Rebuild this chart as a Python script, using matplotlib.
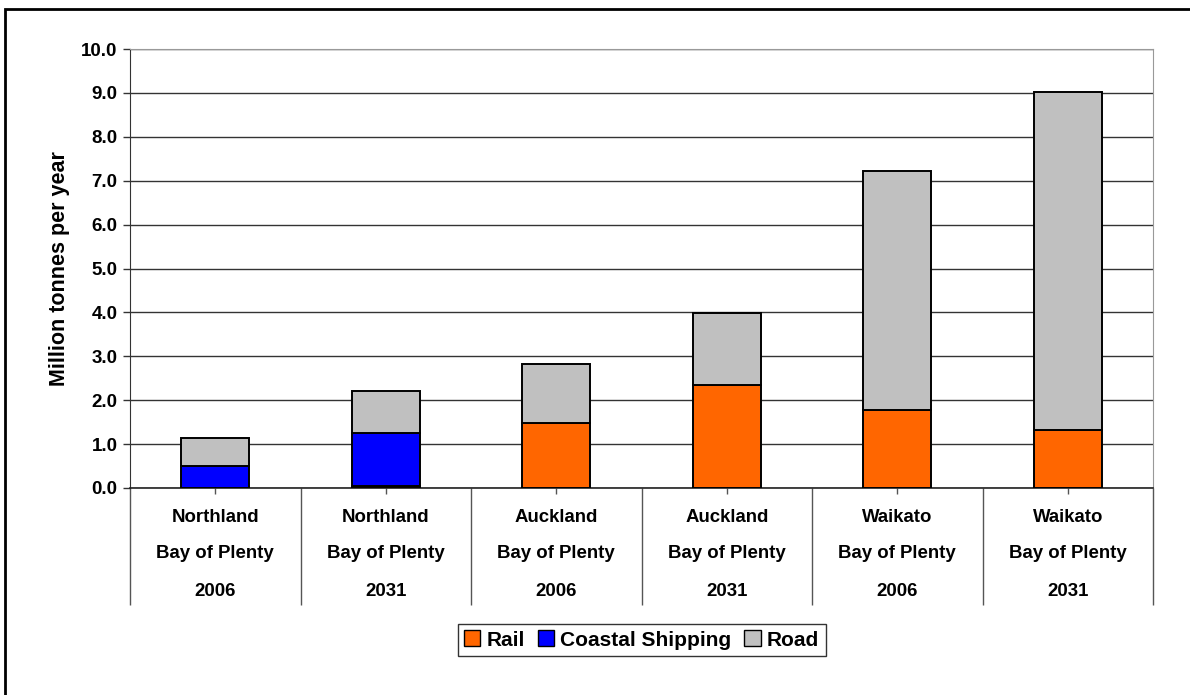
import matplotlib
matplotlib.use("Agg")
import matplotlib.pyplot as plt
from matplotlib.patches import Rectangle, Patch
from matplotlib.ticker import FormatStrFormatter, FixedLocator
from matplotlib.transforms import blended_transform_factory

plt.rcParams['font.family'] = ['Liberation Sans', 'DejaVu Sans']

origins = ["Northland", "Northland", "Auckland", "Auckland", "Waikato", "Waikato"]
destinations = ["Bay of Plenty"] * 6
years = ["2006", "2031", "2006", "2031", "2006", "2031"]

rail = [0.0, 0.05, 1.48, 2.35, 1.77, 1.31]
coastal = [0.50, 1.20, 0.0, 0.0, 0.0, 0.0]
road = [0.63, 0.97, 1.35, 1.63, 5.45, 7.71]

series_names = ["Rail", "Coastal Shipping", "Road"]
colors = ["#FF6600", "#0000FF", "#C0C0C0"]

W, H = 1190, 695
fig = plt.figure(figsize=(W / 100, H / 100), dpi=100)
fig.patch.set_facecolor("white")

# outer chart border (only left and top visible)
fig.add_artist(Rectangle((5 / W, -0.2), 1.2, (1 - 9 / H) + 0.2,
                         transform=fig.transFigure, fill=False,
                         edgecolor="black", linewidth=2.0, clip_on=False))

left, right, top, bottom = 130, 1153, 49, 488
ax = fig.add_axes([left / W, 1 - bottom / H, (right - left) / W, (bottom - top) / H])

x = list(range(len(years)))
bw = 0.4
lw = 1.4
ax.bar(x, rail, bw, color=colors[0], edgecolor="black", linewidth=lw, zorder=3)
ax.bar(x, coastal, bw, bottom=rail, color=colors[1], edgecolor="black", linewidth=lw, zorder=3)
bot2 = [r + c for r, c in zip(rail, coastal)]
ax.bar(x, road, bw, bottom=bot2, color=colors[2], edgecolor="black", linewidth=lw, zorder=3)

ax.set_xlim(-0.5, len(years) - 0.5)
ax.set_ylim(0, 10)
ax.set_yticks([i for i in range(11)])
ax.yaxis.set_major_formatter(FormatStrFormatter("%.1f"))
ax.yaxis.grid(True, color="#333333", linewidth=1.0, zorder=0)
ax.set_axisbelow(True)

ax.tick_params(axis="y", direction="out", length=5, width=1, color="#333333",
               labelsize=13.5, pad=4)
for t in ax.get_yticklabels():
    t.set_fontweight("bold")

# category axis ticks: long separators at boundaries, short at centres
ax.xaxis.set_major_locator(FixedLocator([i - 0.5 for i in range(len(years) + 1)]))
ax.xaxis.set_minor_locator(FixedLocator(x))
ax.tick_params(axis="x", which="major", direction="out", length=117 * 0.72, width=1,
               color="#555555", labelbottom=False)
ax.tick_params(axis="x", which="minor", direction="out", length=4, width=1,
               color="#555555", labelbottom=False)

ax.spines["left"].set_color("#333333")
ax.spines["bottom"].set_color("#222222")
ax.spines["bottom"].set_linewidth(1.2)
ax.spines["top"].set_color("#999999")
ax.spines["right"].set_color("#999999")

ax.set_ylabel("Million tonnes per year", fontsize=15.5, fontweight="bold", labelpad=8)

# multi-level category labels
tr = blended_transform_factory(ax.transData, fig.transFigure)
for i in x:
    for txt, ypx in zip([origins[i], destinations[i], years[i]], [517, 554, 592]):
        ax.text(i, 1 - ypx / H, txt, transform=tr,
                ha="center", va="center", fontsize=13.4, fontweight="bold")

handles = [Patch(facecolor=c, edgecolor="black", linewidth=1) for c in colors]
leg = fig.legend(handles, series_names, loc="center", bbox_to_anchor=((left + right) / 2 / W, 1 - 640 / H),
                 ncol=3, frameon=True, fancybox=False, edgecolor="black",
                 prop={"weight": "bold", "size": 15}, handlelength=0.8, handleheight=0.8,
                 handletextpad=0.3, columnspacing=0.6, borderpad=0.3)
leg.get_frame().set_linewidth(1.0)

fig.savefig("out.png", dpi=100)
